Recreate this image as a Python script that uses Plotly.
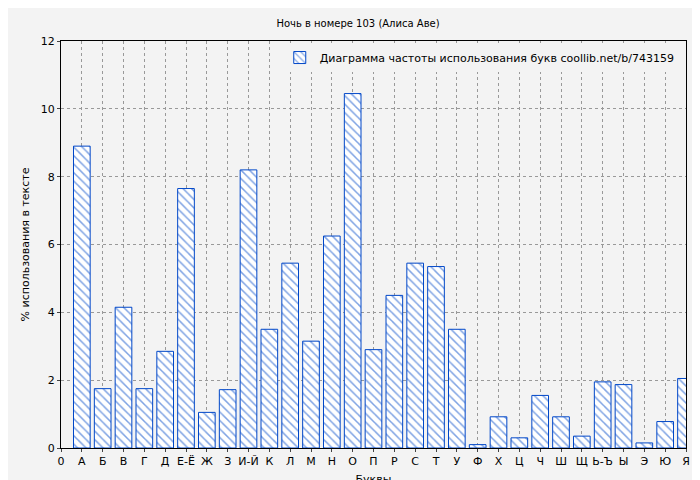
import plotly.graph_objects as go

letters = ["А","Б","В","Г","Д","Е-Ё","Ж","З","И-Й","К","Л","М","Н","О","П","Р","С","Т","У","Ф","Х","Ц","Ч","Ш","Щ","Ь-Ъ","Ы","Э","Ю","Я"]
values = [8.9,1.75,4.15,1.75,2.85,7.65,1.05,1.72,8.2,3.5,5.45,3.15,6.25,10.45,2.9,4.5,5.45,5.35,3.5,0.1,0.92,0.3,1.55,0.92,0.35,1.95,1.87,0.15,0.78,2.05]
tick_labels = ["0"] + letters
positions = list(range(1, len(letters) + 1))

fig = go.Figure(go.Bar(
    x=positions, y=values, width=0.8,
    name="Диаграмма частоты использования букв coollib.net/b/743159",
    marker=dict(color="white", line=dict(color="#0047c8", width=1),
                pattern=dict(shape="\\", fgcolor="#0047c8", bgcolor="white", size=6, solidity=0.25)),
))
fig.update_layout(
    width=700, height=480,
    paper_bgcolor="#f3f3f3", plot_bgcolor="#f3f3f3",
    margin=dict(l=53, r=22, t=33, b=40, autoexpand=False),
    title=dict(text="Ночь в номере 103 (Алиса Аве)", x=0.5, y=0.975, xanchor="center",
               font=dict(size=10, color="black", family="DejaVu Sans")),
    font=dict(family="DejaVu Sans", size=11, color="black"),
    showlegend=True,
    legend=dict(x=0.99, y=0.995, xanchor="right", yanchor="top", bgcolor="#f3f3f3",
                font=dict(size=11)),
    bargap=0.2,
)
fig.update_xaxes(range=[0, 30], tickvals=list(range(0, 31)), ticktext=tick_labels, automargin=False,
                 showgrid=True, gridcolor="#999", griddash="dot", ticks="outside", ticklen=3,
                 showline=True, linecolor="black", mirror=True, zeroline=False,
                 title=dict(text="Буквы", font=dict(size=11), standoff=8))
fig.update_yaxes(range=[0, 12], dtick=2, showgrid=True, gridcolor="#999", griddash="dot", automargin=False,
                 ticks="outside", ticklen=3, showline=True, linecolor="black", mirror=True,
                 zeroline=False, title=dict(text="% использования в тексте", font=dict(size=11), standoff=8))
fig.write_html("out.html")
